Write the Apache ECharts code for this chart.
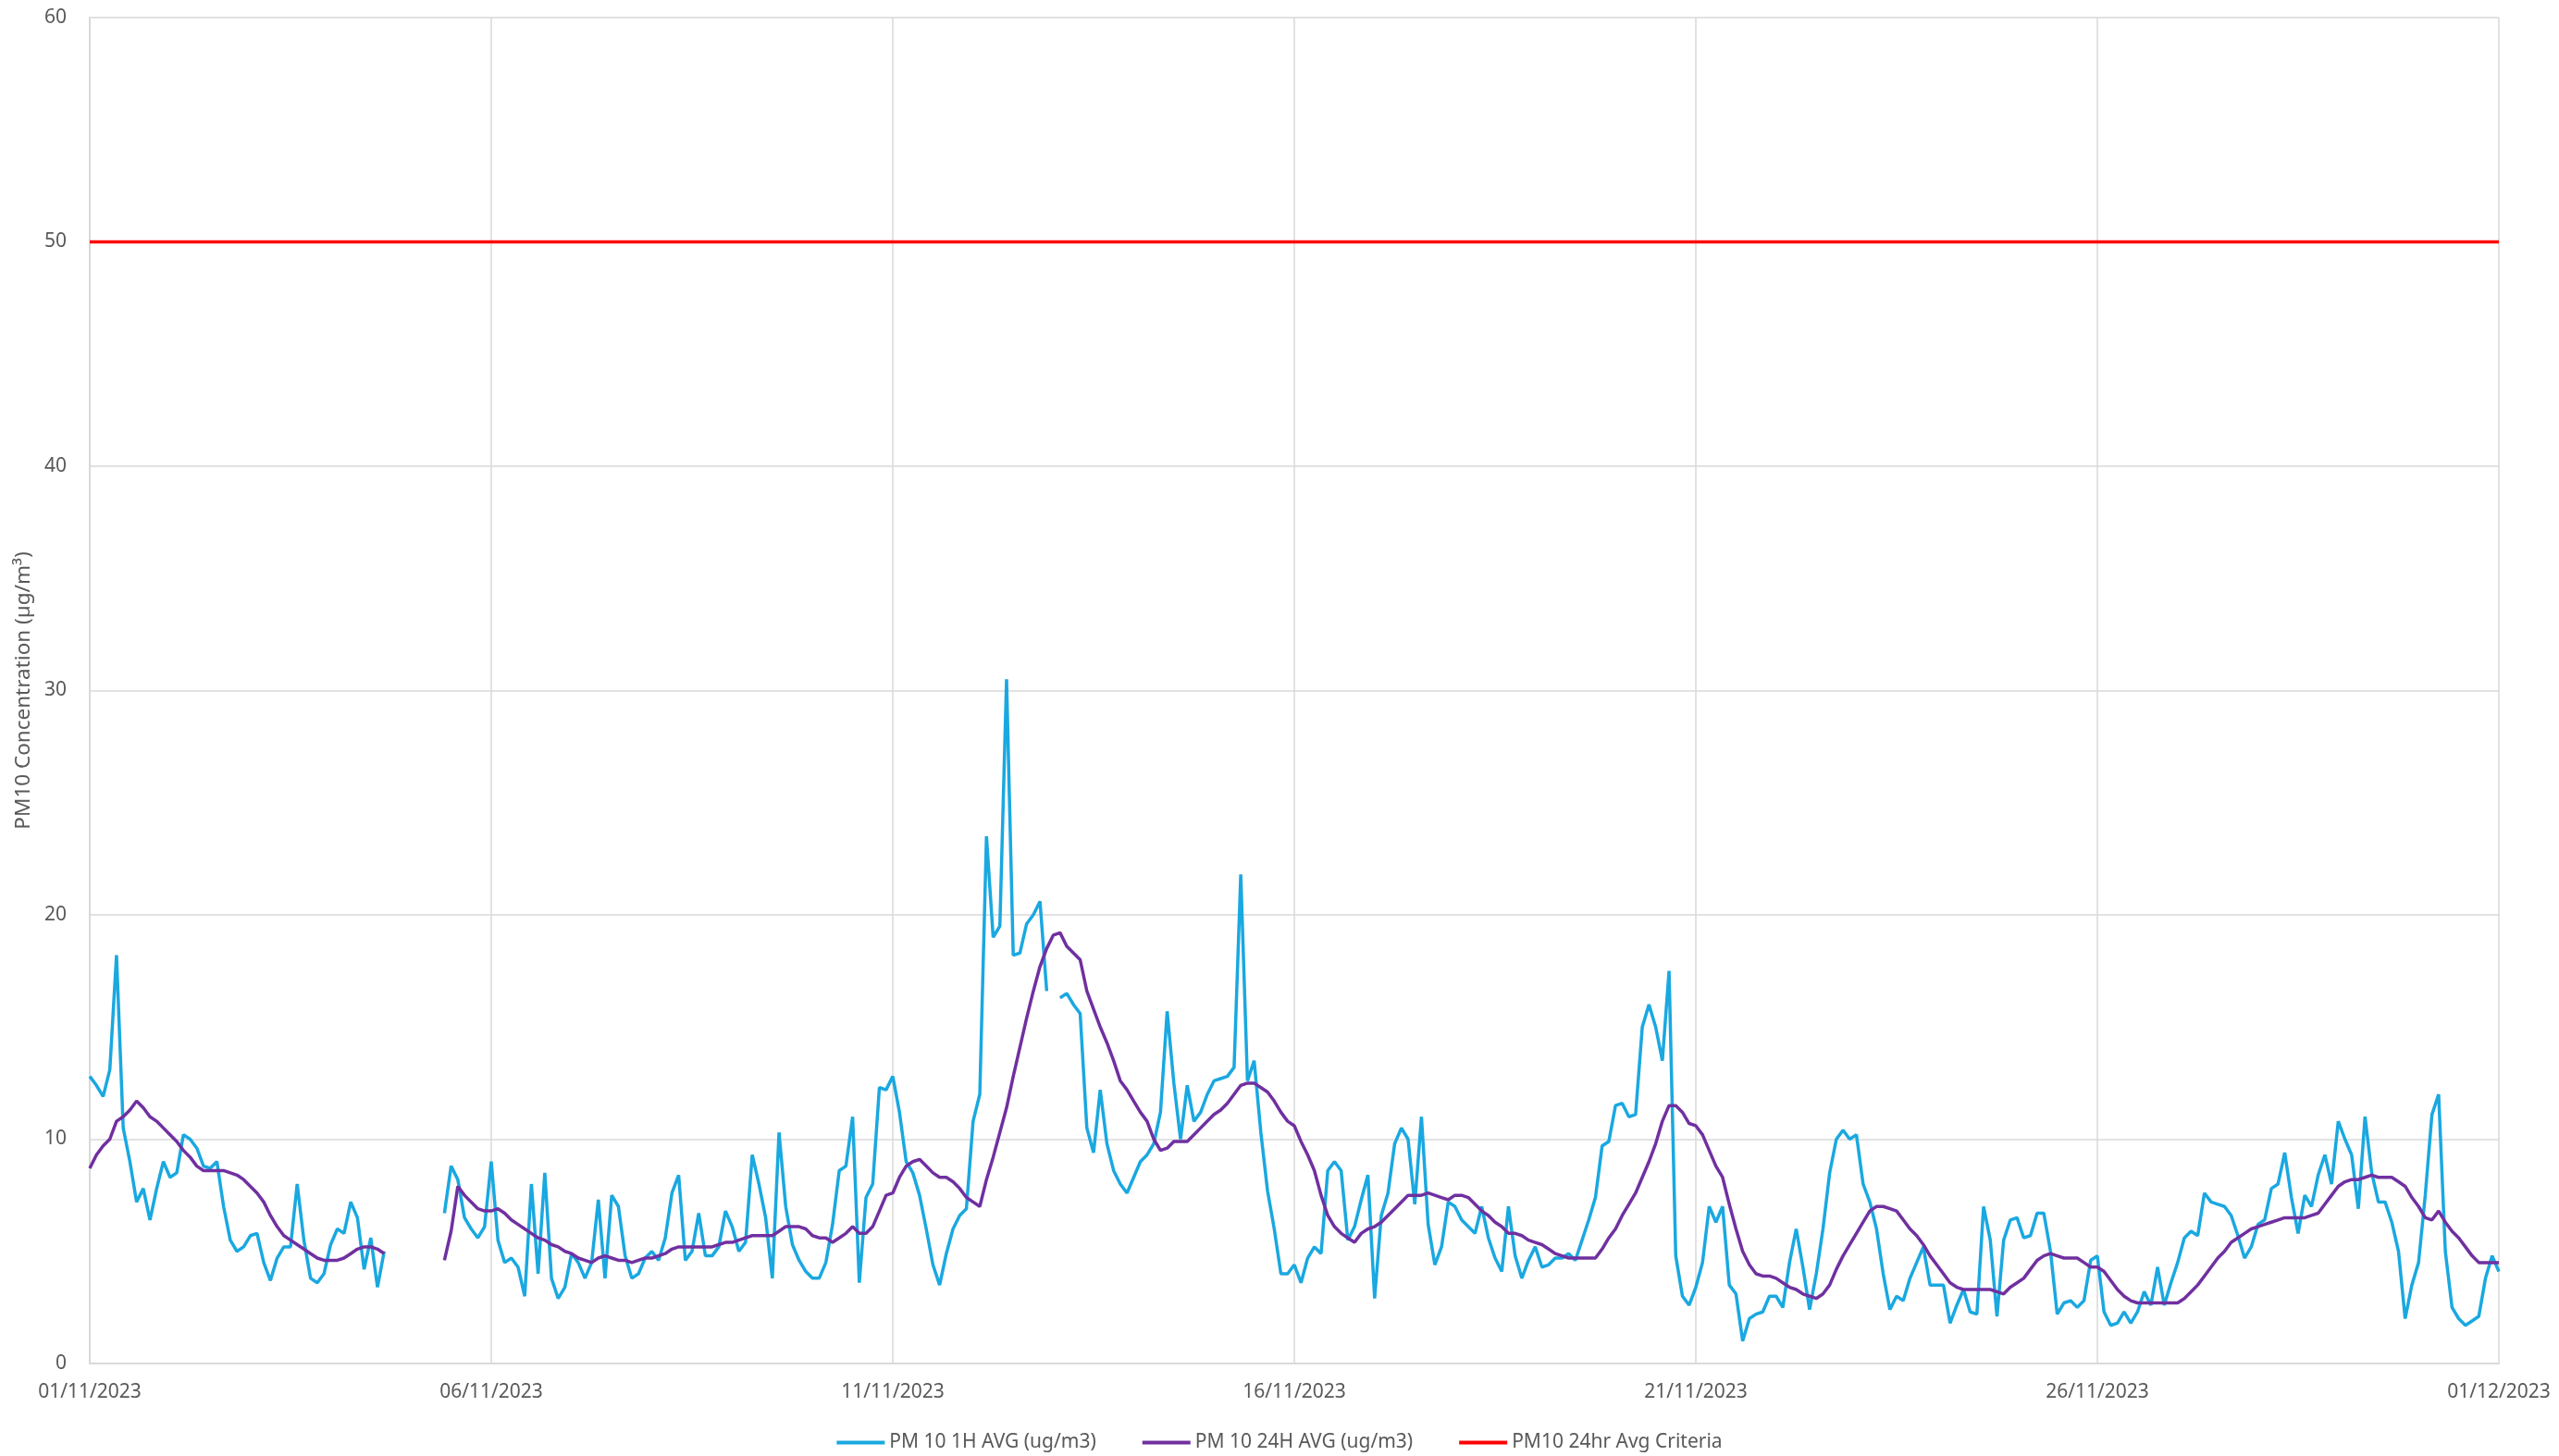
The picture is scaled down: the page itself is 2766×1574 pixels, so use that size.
<!DOCTYPE html>
<html>
<head>
<meta charset="utf-8">
<script src="https://cdn.jsdelivr.net/npm/echarts@6/dist/echarts.min.js"></script>
<style>
html,body{margin:0;padding:0;background:#fff;}
#chart{width:2766px;height:1574px;}
</style>
</head>
<body>
<div id="chart"></div>
<script>
// x ticks (one every 5 days)
const xTickLabels = ['01/11/2023','06/11/2023','11/11/2023','16/11/2023','21/11/2023','26/11/2023','01/12/2023'];
const stepHours = 2; // values below are every 2 hours from 01/11/2023 00:00

// PM 10 1H AVG (ug/m3), 12 values per day
const pm10_1h = [
 12.8,12.4,11.9,13.1,18.2,10.5,9.0,7.2,7.8,6.4,7.8,9.0,
 8.3,8.5,10.2,10.0,9.6,8.8,8.7,9.0,7.0,5.5,5.0,5.2,
 5.7,5.8,4.5,3.7,4.7,5.2,5.2,8.0,5.5,3.8,3.6,4.0,
 5.3,6.0,5.8,7.2,6.5,4.2,5.6,3.4,5.0,null,null,null,
 null,null,null,null,null,6.7,8.8,8.2,6.5,6.0,5.6,6.1,
 9.0,5.5,4.5,4.7,4.3,3.0,8.0,4.0,8.5,3.8,2.9,3.4,
 4.9,4.5,3.8,4.5,7.3,3.8,7.5,7.0,4.8,3.8,4.0,4.7,
 5.0,4.6,5.6,7.6,8.4,4.6,5.0,6.7,4.8,4.8,5.2,6.8,
 6.1,5.0,5.4,9.3,8.0,6.5,3.8,10.3,7.0,5.3,4.6,4.1,
 3.8,3.8,4.5,6.2,8.6,8.8,11.0,3.6,7.4,8.0,12.3,12.2,
 12.8,11.2,9.0,8.5,7.5,6.0,4.4,3.5,4.9,6.0,6.6,6.9,
 10.8,12.0,23.5,19.0,19.5,30.5,18.2,18.3,19.6,20.0,20.6,16.6,
 null,16.3,16.5,16.0,15.6,10.5,9.4,12.2,9.8,8.6,8.0,7.6,
 8.3,9.0,9.3,9.8,11.2,15.7,12.5,10.0,12.4,10.8,11.2,12.0,
 12.6,12.7,12.8,13.2,21.8,12.6,13.5,10.3,7.7,6.0,4.0,4.0,
 4.4,3.6,4.7,5.2,4.9,8.6,9.0,8.6,5.5,6.1,7.3,8.4,
 2.9,6.6,7.6,9.8,10.5,10.0,7.1,11.0,6.2,4.4,5.2,7.2,
 7.0,6.4,6.1,5.8,7.0,5.6,4.7,4.1,7.0,4.8,3.8,4.6,
 5.2,4.3,4.4,4.7,4.7,4.9,4.6,5.5,6.4,7.4,9.7,9.9,
 11.5,11.6,11.0,11.1,15.0,16.0,15.0,13.5,17.5,4.8,3.0,2.6,
 3.4,4.5,7.0,6.3,7.0,3.5,3.1,1.0,2.0,2.2,2.3,3.0,
 3.0,2.5,4.5,6.0,4.3,2.4,4.0,6.0,8.5,10.0,10.4,10.0,
 10.2,8.0,7.2,6.0,4.0,2.4,3.0,2.8,3.8,4.5,5.2,3.5,
 3.5,3.5,1.8,2.6,3.3,2.3,2.2,7.0,5.5,2.1,5.5,6.4,
 6.5,5.6,5.7,6.7,6.7,5.0,2.2,2.7,2.8,2.5,2.8,4.6,
 4.8,2.3,1.7,1.8,2.3,1.8,2.3,3.2,2.6,4.3,2.6,3.6,
 4.5,5.6,5.9,5.7,7.6,7.2,7.1,7.0,6.6,5.7,4.7,5.2,
 6.2,6.4,7.8,8.0,9.4,7.4,5.8,7.5,7.0,8.4,9.3,8.0,
 10.8,10.0,9.3,6.9,11.0,8.5,7.2,7.2,6.3,5.0,2.0,3.5,
 4.5,7.5,11.1,12.0,5.0,2.5,2.0,1.7,1.9,2.1,3.8,4.8,
 4.1
];

// PM 10 24H AVG (ug/m3), 12 values per day
const pm10_24h = [
 8.7,9.3,9.7,10.0,10.8,11.0,11.3,11.7,11.4,11.0,10.8,10.5,
 10.2,9.9,9.5,9.2,8.8,8.6,8.6,8.6,8.6,8.5,8.4,8.2,
 7.9,7.6,7.2,6.6,6.1,5.7,5.5,5.3,5.1,4.9,4.7,4.6,
 4.6,4.6,4.7,4.9,5.1,5.2,5.2,5.1,4.9,null,null,null,
 null,null,null,null,null,4.6,5.9,7.9,7.5,7.2,6.9,6.8,
 6.8,6.9,6.7,6.4,6.2,6.0,5.8,5.6,5.5,5.3,5.2,5.0,
 4.9,4.7,4.6,4.5,4.7,4.8,4.7,4.6,4.6,4.5,4.6,4.7,
 4.7,4.8,4.9,5.1,5.2,5.2,5.2,5.2,5.2,5.2,5.3,5.4,
 5.4,5.5,5.6,5.7,5.7,5.7,5.7,5.9,6.1,6.1,6.1,6.0,
 5.7,5.6,5.6,5.4,5.6,5.8,6.1,5.8,5.8,6.1,6.8,7.5,
 7.6,8.3,8.8,9.0,9.1,8.8,8.5,8.3,8.3,8.1,7.8,7.4,
 7.2,7.0,8.2,9.2,10.3,11.4,12.8,14.1,15.4,16.6,17.7,18.5,
 19.1,19.2,18.6,18.3,18.0,16.6,15.8,15.0,14.3,13.5,12.6,12.2,
 11.7,11.2,10.8,10.0,9.5,9.6,9.9,9.9,9.9,10.2,10.5,10.8,
 11.1,11.3,11.6,12.0,12.4,12.5,12.5,12.3,12.1,11.7,11.2,10.8,
 10.6,9.9,9.3,8.6,7.5,6.6,6.1,5.8,5.6,5.4,5.8,6.0,
 6.1,6.3,6.6,6.9,7.2,7.5,7.5,7.5,7.6,7.5,7.4,7.3,
 7.5,7.5,7.4,7.1,6.8,6.6,6.3,6.1,5.8,5.8,5.7,5.5,
 5.4,5.3,5.1,4.9,4.8,4.7,4.7,4.7,4.7,4.7,5.1,5.6,
 6.0,6.6,7.1,7.6,8.3,9.0,9.8,10.8,11.5,11.5,11.2,10.7,
 10.6,10.2,9.5,8.8,8.3,7.1,6.0,5.0,4.4,4.0,3.9,3.9,
 3.8,3.6,3.4,3.3,3.1,3.0,2.9,3.1,3.5,4.2,4.8,5.3,
 5.8,6.3,6.8,7.0,7.0,6.9,6.8,6.4,6.0,5.7,5.3,4.8,
 4.4,4.0,3.6,3.4,3.3,3.3,3.3,3.3,3.3,3.2,3.1,3.4,
 3.6,3.8,4.2,4.6,4.8,4.9,4.8,4.7,4.7,4.7,4.5,4.3,
 4.3,4.1,3.7,3.3,3.0,2.8,2.7,2.7,2.7,2.7,2.7,2.7,
 2.7,2.9,3.2,3.5,3.9,4.3,4.7,5.0,5.4,5.6,5.8,6.0,
 6.1,6.2,6.3,6.4,6.5,6.5,6.5,6.5,6.6,6.7,7.1,7.5,
 7.9,8.1,8.2,8.2,8.3,8.4,8.3,8.3,8.3,8.1,7.9,7.4,
 7.0,6.5,6.4,6.8,6.3,5.9,5.6,5.2,4.8,4.5,4.5,4.5,
 4.5
];

// PM10 24hr Avg Criteria
const criteriaValues = [50, 50];

const totalHours = (xTickLabels.length - 1) * 5 * 24;
const criteriaHours = [0, totalHours];

const font = 'Noto Sans';
const gray = '#595959';
const gridGray = '#d9d9d9';

const toPairs = arr => arr.map((v, i) => [i * stepHours, v]);

const chart = echarts.init(document.getElementById('chart'));
chart.setOption({
  animation: false,
  backgroundColor: '#ffffff',
  grid: { left: 97, right: 65, top: 19, bottom: 100, containLabel: false },
  legend: {
    left: 'center',
    top: 1544,
    icon: 'rect',
    itemWidth: 52,
    itemHeight: 4,
    itemGap: 50,
    textStyle: { fontFamily: font, fontSize: 21, color: gray },
    data: ['PM 10 1H AVG (ug/m3)', 'PM 10 24H AVG (ug/m3)', 'PM10 24hr Avg Criteria']
  },
  xAxis: {
    type: 'value',
    min: 0,
    max: totalHours,
    interval: 120,
    axisLine: { show: true, lineStyle: { color: gridGray, width: 2 } },
    axisTick: { show: false },
    splitLine: { show: true, lineStyle: { color: gridGray, width: 1.5 } },
    axisLabel: {
      margin: 21,
      color: gray,
      fontFamily: font,
      fontSize: 21,
      showMinLabel: true,
      showMaxLabel: true,
      formatter: v => xTickLabels[Math.round(v / 120)] || ''
    }
  },
  yAxis: {
    type: 'value',
    min: 0,
    max: 60,
    interval: 10,
    name: 'PM10 Concentration (µg/m³)',
    nameLocation: 'middle',
    nameGap: 56,
    nameRotate: 90,
    nameTextStyle: { fontFamily: font, fontSize: 22.5, color: gray },
    axisLine: { show: true, lineStyle: { color: gridGray, width: 2 } },
    axisTick: { show: false },
    splitLine: { show: true, lineStyle: { color: gridGray, width: 1.5 } },
    axisLabel: { margin: 25, color: gray, fontFamily: font, fontSize: 21 }
  },
  series: [
    {
      name: 'PM 10 1H AVG (ug/m3)',
      type: 'line',
      data: toPairs(pm10_1h),
      showSymbol: false,
      symbol: 'none',
      connectNulls: false,
      lineStyle: { color: '#1AA8E0', width: 3.5 },
      itemStyle: { color: '#1AA8E0' },
      z: 2
    },
    {
      name: 'PM 10 24H AVG (ug/m3)',
      type: 'line',
      data: toPairs(pm10_24h),
      showSymbol: false,
      symbol: 'none',
      connectNulls: false,
      lineStyle: { color: '#7030A0', width: 3.5 },
      itemStyle: { color: '#7030A0' },
      z: 3
    },
    {
      name: 'PM10 24hr Avg Criteria',
      type: 'line',
      data: criteriaHours.map((h, i) => [h, criteriaValues[i]]),
      showSymbol: false,
      symbol: 'none',
      lineStyle: { color: '#FF0000', width: 3.5 },
      itemStyle: { color: '#FF0000' },
      z: 4
    }
  ]
});
</script>
</body>
</html>
